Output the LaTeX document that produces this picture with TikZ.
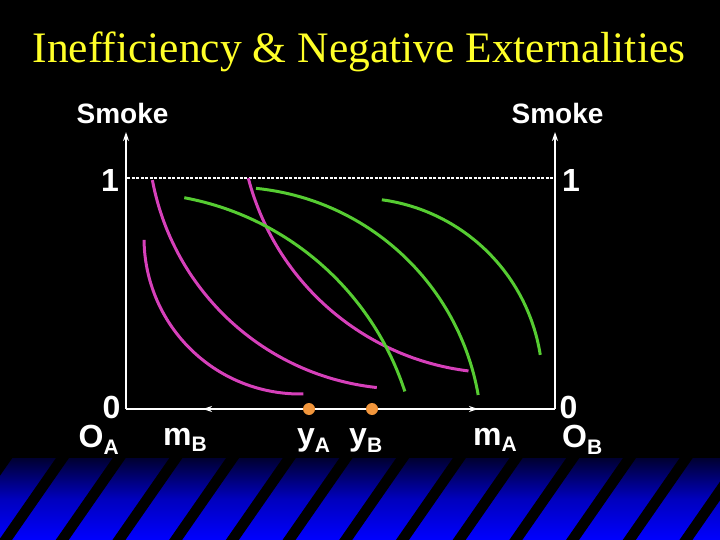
\documentclass[tikz,border=0pt]{standalone}
\usepackage{fontspec}
\setmainfont{Liberation Serif}[Ligatures=NoCommon]
\newfontfamily\arialfont{Liberation Sans}
\usetikzlibrary{arrows.meta}
\definecolor{ttl}{RGB}{255,255,40}
\definecolor{mag}{RGB}{214,64,186}
\definecolor{grn}{RGB}{86,204,50}
\definecolor{org}{RGB}{242,150,60}
\definecolor{navy}{RGB}{0,0,48}
\definecolor{midblue}{RGB}{0,0,190}
\newcommand\labsub[1]{\raisebox{-6.5pt}{\fontsize{21}{21}\selectfont #1}}
\begin{document}
\begin{tikzpicture}[x=1pt,y=-1pt,
  lab/.style={text=white, inner sep=0pt, font=\arialfont\bfseries\fontsize{32}{32}\selectfont},
  smk/.style={text=white, inner sep=0pt, anchor=base, font=\arialfont\bfseries\fontsize{28}{28}\selectfont},
  axisline/.style={white, line width=2pt},
  hline/.style={white, line width=1.3pt},
  tip/.style={-{Stealth[length=9pt,width=6pt]}},
  magc/.style={mag, line width=3pt},
  grnc/.style={grn, line width=3pt},
  dotn/.style={circle, fill=org, minimum size=12pt, inner sep=0pt}]
\fill[black] (0,0) rectangle (720,540);
\useasboundingbox (0,0) rectangle (720,540);
% banner
\begin{scope}
\clip (0,458) rectangle (720,540);
\fill[top color=navy, bottom color=blue, middle color=midblue] (0,458) rectangle (720,540);
\foreach \k in {-1,...,13}
  \fill[black] ({56.7*\k-1},540) -- ({56.7*\k+12},540) -- ({56.7*\k+69},458) -- ({56.7*\k+56},458) -- cycle;
\end{scope}
% title
\node[text=ttl, inner sep=0pt, anchor=base, font=\fontsize{43.5}{44}\selectfont] (title) at (359,63) {Inefficiency \& Negative Externalities};
% axes
\coordinate (OA) at (126,409);
\coordinate (OB) at (555,409);
\coordinate (topA) at (126,132);
\coordinate (topB) at (555,132);
\draw[axisline,tip] (OA) -- (topA);
\draw[axisline,tip] (OB) -- (topB);
\draw[hline] (OA) -- (OB);
\coordinate (mBs) at (212,409);
\coordinate (mBt) at (203,409);
\coordinate (mAs) at (469,409);
\coordinate (mAt) at (478,409);
\draw[hline,tip] (mBs) -- (mBt);
\draw[hline,tip] (mAs) -- (mAt);
\coordinate (dashA) at (127,178);
\coordinate (dashB) at (554,178);
\draw[white, line width=1.8pt, dash pattern=on 3pt off 1.5pt] (dashA) -- (dashB);
% curves (circular arcs)
\draw[magc] plot[domain=88.8:179.3, samples=60, variable=\t] ({300+156*cos(\t)},{238+156*sin(\t)});
\draw[magc] plot[domain=96.1:169.4, samples=60, variable=\t] ({404+256*cos(\t)},{133+256*sin(\t)});
\draw[magc] plot[domain=97:165.4, samples=60, variable=\t] ({500.2+260.3*cos(\t)},{112.6+260.3*sin(\t)});
\draw[grnc] plot[domain=-79.4:-18, samples=60, variable=\t] ({131.4+287.5*cos(\t)},{480.3+287.5*sin(\t)});
\draw[grnc] plot[domain=-84.3:-9.85, samples=60, variable=\t] ({231.1+250.8*cos(\t)},{437.9+250.8*sin(\t)});
\draw[grnc] plot[domain=-82.3:-8.9, samples=60, variable=\t] ({357+185.5*cos(\t)},{383.6+185.5*sin(\t)});
% dots
\node[dotn] (dotA) at (309,409) {};
\node[dotn] (dotB) at (372,409) {};
% labels
\node[smk] (smokeA) at (122.5,124) {Smoke};
\node[smk] (smokeB) at (557.5,124) {Smoke};
\node[lab, anchor=base] (oneA) at (110,191.5) {1};
\node[lab, anchor=base] (oneB) at (571,191.5) {1};
\node[lab, anchor=base] (zeroA) at (111.5,418.5) {0};
\node[lab, anchor=base] (zeroB) at (568.5,418.5) {0};
\node[lab, anchor=base west] (OAl) at (78.5,447.5) {O\labsub{A}};
\node[lab, anchor=base west] (OBl) at (562,447.5) {O\labsub{B}};
\node[lab, anchor=base west] (mBl) at (163,445) {m\labsub{B}};
\node[lab, anchor=base west] (yAl) at (297,445.5) {y\labsub{A}};
\node[lab, anchor=base west] (yBl) at (349,445.5) {y\labsub{B}};
\node[lab, anchor=base west] (mAl) at (473,445) {m\labsub{A}};
\end{tikzpicture}
\end{document}
